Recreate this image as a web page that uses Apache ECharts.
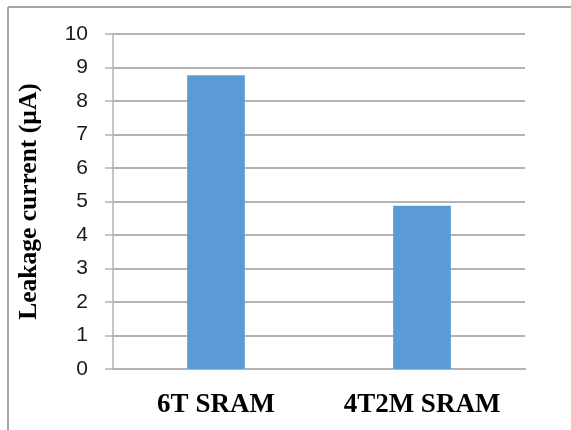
<!DOCTYPE html>
<html>
<head>
<meta charset="utf-8">
<script src="https://cdn.jsdelivr.net/npm/echarts@6/dist/echarts.min.js"></script>
<style>
html,body{margin:0;padding:0;background:#fff;}
#c{width:571px;height:430px;}
</style>
</head>
<body>
<div id="c"></div>
<script>
const categories = ['6T SRAM', '4T2M SRAM'];
const leakage = [8.77, 4.87];
const yTicks = { min: 0, max: 10, interval: 1 };

const chart = echarts.init(document.getElementById('c'), null, { renderer: 'canvas' });
chart.setOption({
  animation: false,
  backgroundColor: '#fff',
  grid: { left: 113, right: 46, top: 34, bottom: 61, containLabel: false },
  graphic: [
    { type: 'line', shape: { x1: 8, y1: 7, x2: 8, y2: 430 }, style: { stroke: '#a6a6a6', lineWidth: 2 } },
    { type: 'line', shape: { x1: 8, y1: 7, x2: 571, y2: 7 }, style: { stroke: '#a6a6a6', lineWidth: 2 } }
  ],
  xAxis: {
    type: 'category',
    data: categories,
    axisLine: { show: true, lineStyle: { color: '#b3b3b3', width: 2 } },
    axisTick: { show: false },
    axisLabel: {
      margin: 23,
      color: '#000',
      fontFamily: '"Liberation Serif", "Times New Roman", serif',
      fontWeight: 'bold',
      fontSize: 27
    },
    splitLine: { show: false }
  },
  yAxis: {
    type: 'value',
    min: yTicks.min,
    max: yTicks.max,
    interval: yTicks.interval,
    name: 'Leakage current (µA)',
    nameLocation: 'middle',
    nameGap: 71,
    nameRotate: 90,
    nameTextStyle: {
      color: '#000',
      fontFamily: '"Liberation Serif", "Times New Roman", serif',
      fontWeight: 'bold',
      fontSize: 25.5
    },
    axisLine: { show: true, lineStyle: { color: '#b3b3b3', width: 1.5 } },
    axisTick: { show: true, length: 8, lineStyle: { color: '#b3b3b3', width: 1.5 } },
    axisLabel: {
      margin: 25,
      color: '#1a1a1a',
      fontFamily: '"Liberation Sans", Arial, sans-serif',
      fontSize: 21
    },
    splitLine: { show: true, lineStyle: { color: '#b3b3b3', width: 2 } }
  },
  series: [{
    type: 'bar',
    data: leakage,
    barWidth: '28%',
    itemStyle: { color: '#5b9bd5' }
  }]
});
</script>
</body>
</html>
